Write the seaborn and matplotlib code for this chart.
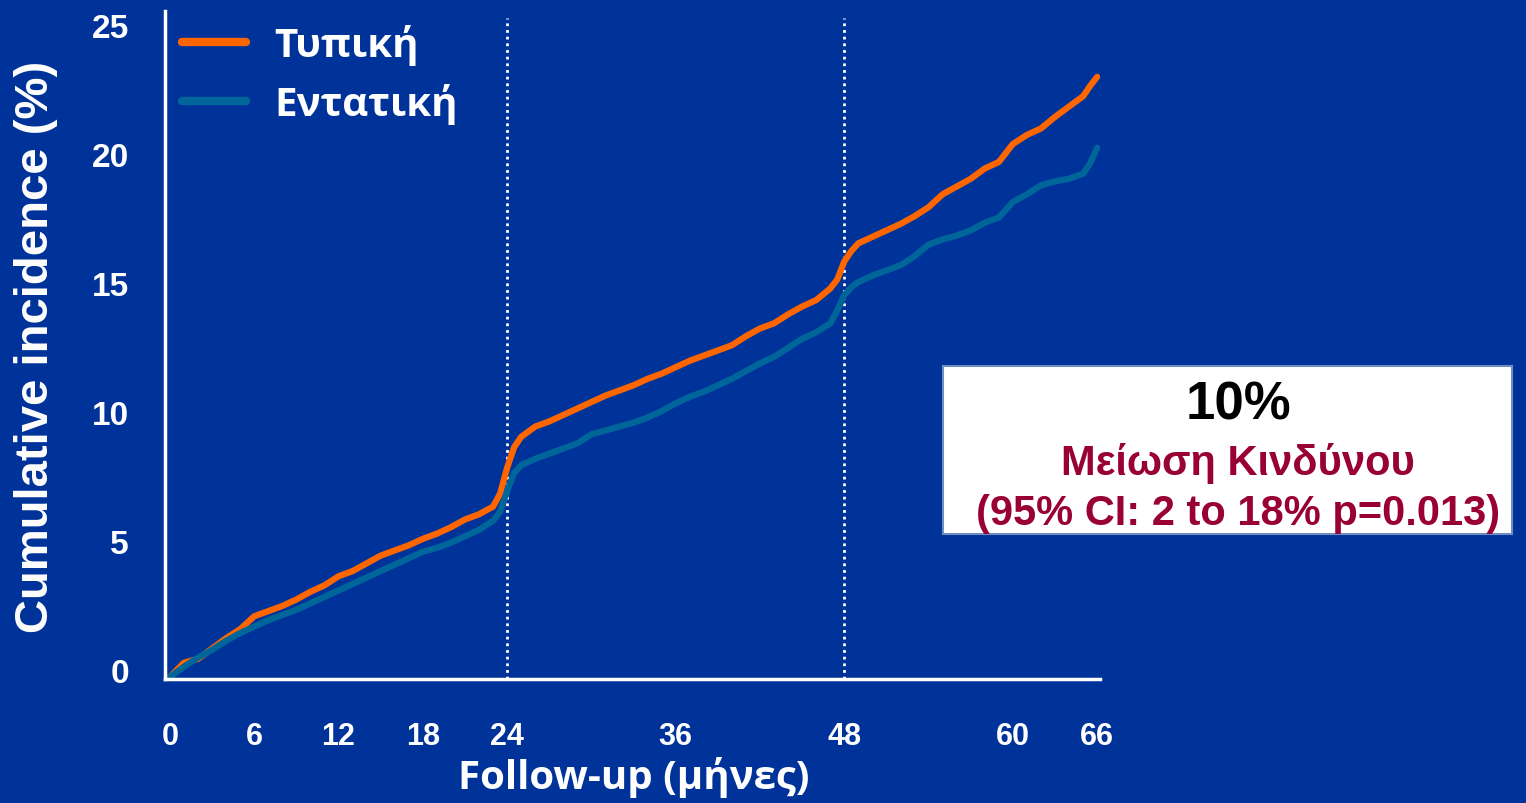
import matplotlib
matplotlib.use("Agg")
import matplotlib.pyplot as plt
from matplotlib.patches import Rectangle
from matplotlib.transforms import ScaledTranslation
import seaborn as sns
import pandas as pd

# ---------------- data ----------------
months = [0, 1, 2, 3, 4, 5, 6, 7, 8, 9, 10, 11, 12, 13, 14, 15, 16, 17, 18, 19,
          20, 21, 22, 23, 23.5, 24, 24.5, 25, 26, 27, 28, 29, 30, 31, 32, 33, 34,
          35, 36, 37, 38, 39, 40, 41, 42, 43, 44, 45, 46, 47, 47.5, 48, 48.5, 49,
          50, 51, 52, 53, 54, 55, 56, 57, 58, 59, 60, 61, 62, 63, 64, 65, 65.5, 66]

standard = [0, 0.55, 0.7, 1.1, 1.5, 1.85, 2.35, 2.55, 2.75, 3.0, 3.3, 3.55, 3.9,
            4.1, 4.4, 4.7, 4.9, 5.1, 5.35, 5.55, 5.8, 6.1, 6.3, 6.6, 7.1, 8.1,
            8.9, 9.3, 9.7, 9.9, 10.15, 10.4, 10.65, 10.9, 11.1, 11.3, 11.55,
            11.75, 12.0, 12.25, 12.45, 12.65, 12.85, 13.2, 13.5, 13.7, 14.05,
            14.35, 14.6, 15.05, 15.4, 16.1, 16.5, 16.8, 17.05, 17.3, 17.55,
            17.85, 18.2, 18.7, 19.0, 19.3, 19.7, 19.95, 20.65, 21.0, 21.25,
            21.7, 22.1, 22.5, 22.9, 23.25]

intensive = [0, 0.4, 0.75, 1.05, 1.4, 1.7, 1.95, 2.2, 2.4, 2.6, 2.85, 3.1, 3.35,
             3.6, 3.85, 4.1, 4.35, 4.6, 4.85, 5.0, 5.2, 5.45, 5.7, 6.05, 6.4,
             7.2, 7.9, 8.2, 8.45, 8.65, 8.85, 9.05, 9.4, 9.55, 9.7, 9.85, 10.05,
             10.3, 10.6, 10.85, 11.05, 11.3, 11.55, 11.85, 12.15, 12.4, 12.75,
             13.1, 13.35, 13.7, 14.2, 14.8, 15.1, 15.3, 15.55, 15.75, 15.95,
             16.3, 16.75, 16.95, 17.1, 17.3, 17.6, 17.8, 18.4, 18.7, 19.05,
             19.2, 19.3, 19.5, 19.9, 20.5]

series_names = ["Τυπική", "Εντατική"]
x_ticks = [0, 6, 12, 18, 24, 30, 36, 42, 48, 54, 60, 66]
x_tick_labels = ["0", "6", "12", "18", "24", "", "36", "", "48", "", "60", "66"]
y_ticks = [0, 5, 10, 15, 20, 25]
marker_months = [24, 48]

box_title = "10%"
box_line1 = "Μείωση Κινδύνου"
box_line2 = "(95% CI: 2 to 18% p=0.013)"
x_label = "Follow-up (μήνες)"
y_label = "Cumulative incidence (%)"

# ---------------- styling ----------------
BG = "#003399"
ORANGE = "#FF6600"
TEAL = "#006699"
DARKRED = "#990033"

sns.set_theme(style="white", rc={"axes.facecolor": BG, "figure.facecolor": BG})
plt.rcParams["font.family"] = ["Liberation Sans", "DejaVu Sans"]

df = pd.DataFrame({
    "month": months * 2,
    "value": standard + intensive,
    "group": [series_names[0]] * len(months) + [series_names[1]] * len(months),
})

fig = plt.figure(figsize=(15.26, 8.04), dpi=100)
fig.patch.set_facecolor(BG)
ax = fig.add_axes([165 / 1526, 1 - 680 / 804, (1100 - 165) / 1526, (680 - 12) / 804])
ax.set_facecolor(BG)

sns.lineplot(data=df, x="month", y="value", hue="group", hue_order=series_names,
             palette=[ORANGE, TEAL], linewidth=4.5, ax=ax, legend=True,
             estimator=None, sort=False)

for m in marker_months:
    ax.axvline(m, ymin=0, ymax=0.99, color="white", linestyle=(0, (1, 1.4)),
               linewidth=2, zorder=1)

ax.set_xlim(-0.35, 66.2)
ax.set_ylim(-0.08, 25.8)

for side in ["top", "right"]:
    ax.spines[side].set_visible(False)
for side in ["left", "bottom"]:
    ax.spines[side].set_color("white")
    ax.spines[side].set_linewidth(2.5)

ax.set_xticks(x_ticks)
ax.set_xticklabels(x_tick_labels)
ax.set_yticks(y_ticks)
ax.tick_params(axis="both", colors="white", length=4, width=1.5, direction="out")
ax.tick_params(axis="y", pad=22)
ax.tick_params(axis="x", pad=26)
shift_up = ScaledTranslation(0, 7 / 100, fig.dpi_scale_trans)
for lab in ax.get_yticklabels():
    lab.set_fontsize(24)
    lab.set_fontweight("bold")
    lab.set_color("white")
    lab.set_transform(lab.get_transform() + shift_up)
for lab in ax.get_xticklabels():
    lab.set_fontsize(22)
    lab.set_fontweight("bold")
    lab.set_color("white")

ax.set_xlabel("")
ax.set_ylabel("")
fig.text(36 / 1526, 1 - 347 / 804, y_label, rotation=90, ha="center", va="center",
         fontsize=34, fontweight="bold", color="white",
         family=["Liberation Sans", "DejaVu Sans"])
fig.text(634 / 1526, 1 - 778 / 804, x_label, ha="center", va="center",
         fontsize=29, fontweight="bold", color="white",
         family=["Open Sans", "DejaVu Sans"])

# legend
handles, labels = ax.get_legend_handles_labels()
for h in handles:
    h.set_linewidth(6)
leg = ax.legend(handles, labels, loc="upper left",
                bbox_to_anchor=(0.018, 0.98), frameon=False,
                prop={"family": ["Open Sans", "DejaVu Sans"], "weight": "bold",
                      "size": 29},
                handlelength=1.6, handletextpad=0.7, labelspacing=0.45,
                borderpad=0, borderaxespad=0)
for t in leg.get_texts():
    t.set_color("white")

# annotation box
fig.patches.append(Rectangle((943 / 1526, 1 - 535 / 804), 569 / 1526, 168 / 804,
                             transform=fig.transFigure, facecolor="white",
                             edgecolor="#6f8fc0", linewidth=1.5, zorder=5))
cx = 1238 / 1526
fig.text(cx, 1 - 420 / 804, box_title, ha="center", va="baseline", fontsize=38,
         fontweight="bold", color="black", zorder=6)
fig.text(cx, 1 - 475 / 804, box_line1, ha="center", va="baseline", fontsize=30,
         fontweight="bold", color=DARKRED, zorder=6)
fig.text(cx, 1 - 525 / 804, box_line2, ha="center", va="baseline", fontsize=30,
         fontweight="bold", color=DARKRED, zorder=6)

fig.savefig("out.png", dpi=100, facecolor=BG)
